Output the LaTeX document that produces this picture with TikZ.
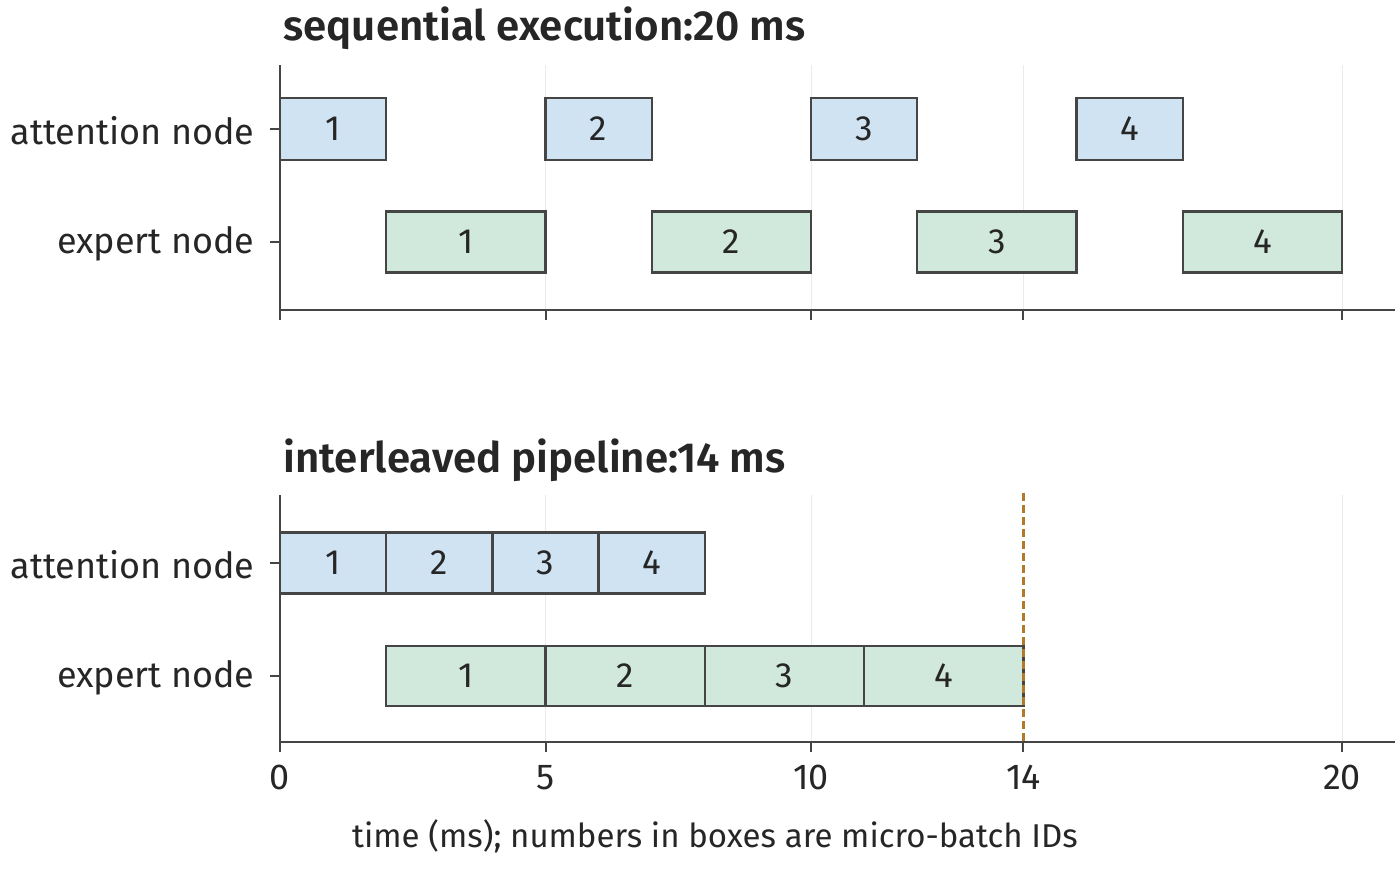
\documentclass[tikz,border=0pt]{standalone}
\usepackage{fontspec}
\setmainfont{Fira Sans}
\newfontfamily\semib{Fira Sans SemiBold}
\definecolor{att}{HTML}{CFE3F2}
\definecolor{exp}{HTML}{D1E8DC}
\definecolor{edg}{HTML}{454545}
\definecolor{dashcol}{HTML}{B07A2A}
\begin{document}
\begin{tikzpicture}[x=1pt,y=-1pt,
  box/.style={draw=edg,line width=2.4pt,anchor=center,inner sep=0pt,font=\fontsize{35}{35}\selectfont\color{black!85}},
  lab/.style={font=\fontsize{36}{36}\selectfont\color{black!85},anchor=east},
  tick/.style={font=\fontsize{36}{36}\selectfont\color{black!85},anchor=north},
  ttl/.style={font=\semib\fontsize{42}{42}\selectfont\color{black!85},anchor=base west},
  ax/.style={line width=2pt,color=edg},
  grd/.style={line width=1pt,color=black!8}]
\useasboundingbox (0,0) rectangle (1400,868);
\def\ms{53.1}
% top panel
\foreach \t in {5,10,14,20}{\draw[grd] (280+\t*\ms,65) -- (280+\t*\ms,310);}
\node[ttl] (t1) at (280,40) {sequential execution:20 ms};
\foreach \a/\b/\n in {0/2/1,5/7/2,10/12/3,15/17/4}{
  \node[box,fill=att,minimum width={(\b-\a)*\ms*1pt},minimum height=62pt] (ta\n) at ({280+(\a+\b)/2*\ms},129) {\n};}
\foreach \a/\b/\n in {2/5/1,7/10/2,12/15/3,17/20/4}{
  \node[box,fill=exp,minimum width={(\b-\a)*\ms*1pt},minimum height=61pt] (te\n) at ({280+(\a+\b)/2*\ms},242) {\n};}
\draw[ax] (280,65) -- (280,310) -- (1395,310);
\foreach \t in {0,5,10,14,20}{\draw[ax] (280+\t*\ms,310) -- (280+\t*\ms,320);}
\draw[ax] (270,129) -- (280,129); \draw[ax] (270,242) -- (280,242);
\node[lab] (la1) at (258,131) {attention node};
\node[lab] (le1) at (258,244) {expert node};
% bottom panel
\foreach \t in {5,10,20}{\draw[grd] (280+\t*\ms,495) -- (280+\t*\ms,742);}
\node[ttl] (t2) at (280,472) {interleaved pipeline:14 ms};
\foreach \a/\b/\n in {0/2/1,2/4/2,4/6/3,6/8/4}{
  \node[box,fill=att,minimum width={(\b-\a)*\ms*1pt},minimum height=61pt] (ba\n) at ({280+(\a+\b)/2*\ms},563) {\n};}
\foreach \a/\b/\n in {2/5/1,5/8/2,8/11/3,11/14/4}{
  \node[box,fill=exp,minimum width={(\b-\a)*\ms*1pt},minimum height=60pt] (be\n) at ({280+(\a+\b)/2*\ms},676) {\n};}
\coordinate (d1) at (280+14*\ms,493); \coordinate (d2) at (280+14*\ms,742);
\draw[color=dashcol,line width=3pt,dash pattern=on 8pt off 4pt] (d1) -- (d2);
\draw[ax] (280,495) -- (280,742) -- (1395,742);
\foreach \t in {0,5,10,14,20}{\draw[ax] (280+\t*\ms,742) -- (280+\t*\ms,752);
  \node[tick] at (280+\t*\ms,762) {\t};}
\draw[ax] (270,563) -- (280,563); \draw[ax] (270,676) -- (280,676);
\node[lab] (la2) at (258,565) {attention node};
\node[lab] (le2) at (258,678) {expert node};
\node[font=\fontsize{33}{33}\selectfont\color{black!85}] (xl) at (715,836) {time (ms); numbers in boxes are micro-batch IDs};
\end{tikzpicture}
\end{document}
